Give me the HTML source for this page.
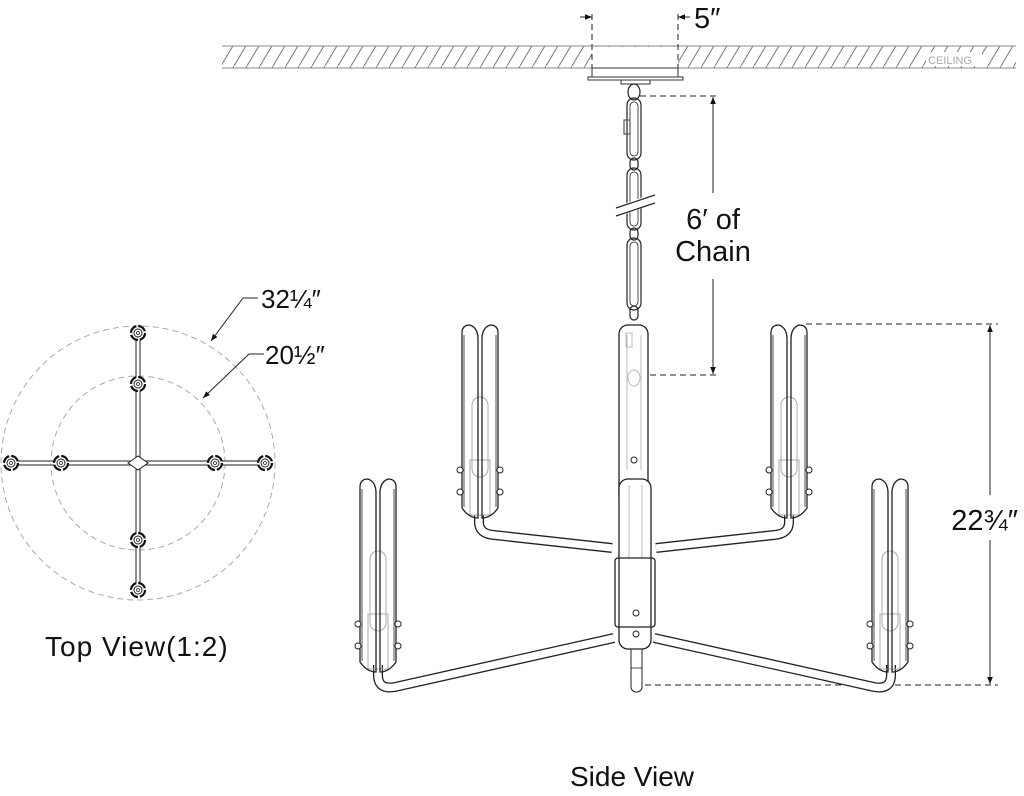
<!DOCTYPE html>
<html><head><meta charset="utf-8"><style>
html,body{margin:0;padding:0;background:#fff;}
svg{display:block;}
text{font-family:"Liberation Sans",sans-serif;fill:#111;}
</style></head><body>
<svg width="1024" height="796" viewBox="0 0 1024 796" xmlns="http://www.w3.org/2000/svg">
<defs>
<pattern id="hatch" width="13" height="22" patternUnits="userSpaceOnUse">
<line x1="0" y1="22" x2="13" y2="0" stroke="#777" stroke-width="1"/>
</pattern>
<g id="cup">
<rect x="10" y="72" width="16" height="80" rx="8" fill="none" stroke="#aaa" stroke-width="1"/>
<rect x="8" y="135" width="20" height="55" fill="none" stroke="#aaa" stroke-width="1"/>
<path d="M0,8 Q0,0 8,0 Q16,3 16,14 V193 Q7,193 0,183 Z" fill="none" stroke="#222" stroke-width="1.3"/>
<path d="M2,10 V182" stroke="#222" stroke-width="0.8"/>
<path d="M36,8 Q36,0 28,0 Q20,3 20,14 V193 Q29,193 36,183 Z" fill="none" stroke="#222" stroke-width="1.3"/>
<path d="M34,10 V182" stroke="#222" stroke-width="0.8"/>
<circle cx="-2" cy="145" r="3" fill="#fff" stroke="#222"/>
<circle cx="-2" cy="167" r="3" fill="#fff" stroke="#222"/>
<circle cx="38" cy="145" r="3" fill="#fff" stroke="#222"/>
<circle cx="38" cy="167" r="3" fill="#fff" stroke="#222"/>
</g>
<g id="bulb">
<circle r="7" fill="#fff" stroke="#111" stroke-width="2.2" stroke-dasharray="9 2"/>
<circle r="4" fill="none" stroke="#222" stroke-width="1"/>
<circle r="1.5" fill="none" stroke="#222" stroke-width="0.8"/>
</g>
<marker id="ar" viewBox="0 0 10 10" refX="10" refY="5" markerWidth="7" markerHeight="7" orient="auto-start-reverse"><path d="M0,1 L10,5 L0,9 Z" fill="#111"/></marker>
</defs>

<rect x="222" y="46" width="794" height="22" fill="url(#hatch)"/>
<line x1="222" y1="46" x2="1016" y2="46" stroke="#888"/>
<line x1="222" y1="68" x2="1016" y2="68" stroke="#888"/>
<rect x="592" y="47" width="86" height="21" fill="#fff"/>
<rect x="926" y="52" width="56" height="14" fill="#fff"/>
<text x="928" y="64" font-size="11" style="fill:#aaa">CEILING</text>
<rect x="592" y="68" width="86" height="9" fill="none" stroke="#333"/>
<rect x="588" y="77" width="95" height="3" fill="none" stroke="#333"/>
<rect x="621" y="80" width="29" height="4" fill="none" stroke="#333"/>

<line x1="592" y1="14" x2="592" y2="68" stroke="#222" stroke-dasharray="6 4"/>
<line x1="678" y1="14" x2="678" y2="68" stroke="#222" stroke-dasharray="6 4"/>
<line x1="580" y1="17" x2="592" y2="17" stroke="#222" marker-end="url(#ar)"/>
<line x1="690" y1="17" x2="678" y2="17" stroke="#222" marker-end="url(#ar)"/>
<text x="694" y="28" font-size="29">5″</text>

<g fill="none" stroke="#222" stroke-width="1.2">
<ellipse cx="634" cy="92" rx="6" ry="8"/>
<rect x="627" y="98" width="14" height="62" rx="7"/>
<rect x="630" y="102" width="8" height="54" rx="4" stroke-width="0.8"/>
<rect x="624" y="120" width="6" height="14" stroke="#555"/>
<rect x="630" y="158" width="8" height="12" rx="4"/>
<rect x="627" y="168" width="14" height="62" rx="7"/>
<rect x="630" y="172" width="8" height="54" rx="4" stroke-width="0.8"/>
<rect x="630" y="228" width="8" height="12" rx="4"/>
<rect x="627" y="238" width="14" height="72" rx="7"/>
<rect x="630" y="242" width="8" height="64" rx="4" stroke-width="0.8"/>
<rect x="630" y="306" width="8" height="14" rx="4"/>
</g>
<rect x="615" y="201" width="36" height="10" fill="#fff" transform="rotate(-20 633 206)"/>
<line x1="616" y1="208" x2="655" y2="195" stroke="#222" stroke-width="1.2"/>
<line x1="616" y1="216" x2="655" y2="203" stroke="#222" stroke-width="1.2"/>

<line x1="640" y1="96" x2="718" y2="96" stroke="#222" stroke-dasharray="6 4"/>
<line x1="640" y1="375" x2="718" y2="375" stroke="#222" stroke-dasharray="6 4"/>
<line x1="713" y1="193" x2="713" y2="97" stroke="#222" marker-end="url(#ar)"/>
<line x1="713" y1="279" x2="713" y2="374" stroke="#222" marker-end="url(#ar)"/>
<text x="713" y="229" font-size="29" text-anchor="middle">6′ of</text>
<text x="713" y="261" font-size="29" text-anchor="middle">Chain</text>

<line x1="806" y1="324" x2="998" y2="324" stroke="#222" stroke-dasharray="6 4"/>
<line x1="645" y1="685" x2="998" y2="685" stroke="#222" stroke-dasharray="6 4"/>
<line x1="990" y1="495" x2="990" y2="325" stroke="#222" marker-end="url(#ar)"/>
<line x1="990" y1="540" x2="990" y2="684" stroke="#222" marker-end="url(#ar)"/>
<text x="1018" y="530" font-size="29" text-anchor="end">22¾″</text>

<g fill="none" stroke-linecap="butt">
<g stroke="#222" stroke-width="10">
<path d="M479,515 V522 Q479,534 494,535 L612,548"/>
<path d="M789,515 V522 Q789,534 774,535 L656,548"/>
<path d="M378,665 V675 Q378,690 395,687 L614,638"/>
<path d="M891,665 V675 Q891,690 874,687 L654,638"/>
</g>
<g stroke="#fff" stroke-width="7.4">
<path d="M479,515 V522 Q479,534 494,535 L612,548"/>
<path d="M789,515 V522 Q789,534 774,535 L656,548"/>
<path d="M378,665 V675 Q378,690 395,687 L614,638"/>
<path d="M891,665 V675 Q891,690 874,687 L654,638"/>
</g>
</g>

<use href="#cup" x="462" y="325"/>
<use href="#cup" x="771" y="325"/>
<use href="#cup" x="360" y="479"/>
<use href="#cup" x="872" y="479"/>

<rect x="631" y="640" width="11" height="52" rx="5" fill="#fff" stroke="#222"/>
<line x1="631" y1="668" x2="642" y2="668" stroke="#222" stroke-width="0.8"/>
<rect x="619" y="325" width="29" height="180" rx="9" fill="#fff" stroke="#222" stroke-width="1.3"/>
<path d="M627,335 V470 M641,335 V470" stroke="#bbb"/>
<ellipse cx="634" cy="378" rx="6" ry="8" fill="none" stroke="#bbb"/>
<rect x="626" y="333" width="6" height="14" fill="none" stroke="#bbb"/>
<circle cx="634" cy="460" r="3" fill="#fff" stroke="#222"/>
<rect x="619" y="479" width="32" height="170" rx="9" fill="#fff" stroke="#222" stroke-width="1.3"/>
<path d="M629,485 V558 M642,485 V558" stroke="#bbb"/>
<line x1="619" y1="558" x2="651" y2="558" stroke="#222" stroke-width="0.8"/>
<rect x="615" y="558" width="40" height="69" rx="3" fill="none" stroke="#222" stroke-width="1.3"/>
<circle cx="636" cy="613" r="3" fill="#fff" stroke="#222"/>
<circle cx="636" cy="634" r="3" fill="#fff" stroke="#222"/>

<circle cx="138" cy="463" r="137" fill="none" stroke="#aaa" stroke-dasharray="6 4"/>
<circle cx="138" cy="463" r="87" fill="none" stroke="#aaa" stroke-dasharray="6 4"/>
<g stroke="#222" stroke-width="1">
<rect x="11" y="461" width="254" height="4" fill="#fff"/>
<rect x="136" y="333" width="4" height="257" fill="#fff"/>
</g>
<path d="M128,463 L138,456 L148,463 L138,470 Z" fill="#fff" stroke="#222"/>
<use href="#bulb" x="11" y="463"/>
<use href="#bulb" x="61" y="463"/>
<use href="#bulb" x="215" y="463"/>
<use href="#bulb" x="265" y="463"/>
<use href="#bulb" x="138" y="333"/>
<use href="#bulb" x="138" y="384"/>
<use href="#bulb" x="138" y="540"/>
<use href="#bulb" x="138" y="590"/>
<polyline points="258,298 243,298 211,341" fill="none" stroke="#222" marker-end="url(#ar)"/>
<polyline points="264,354 249,354 203,398" fill="none" stroke="#222" marker-end="url(#ar)"/>
<text x="261" y="308" font-size="26">32¼″</text>
<text x="265" y="364" font-size="26">20½″</text>
<text x="45" y="656" font-size="28" letter-spacing="1">Top View(1:2)</text>
<text x="632" y="786" font-size="28" text-anchor="middle">Side View</text>
</svg>
</body></html>
